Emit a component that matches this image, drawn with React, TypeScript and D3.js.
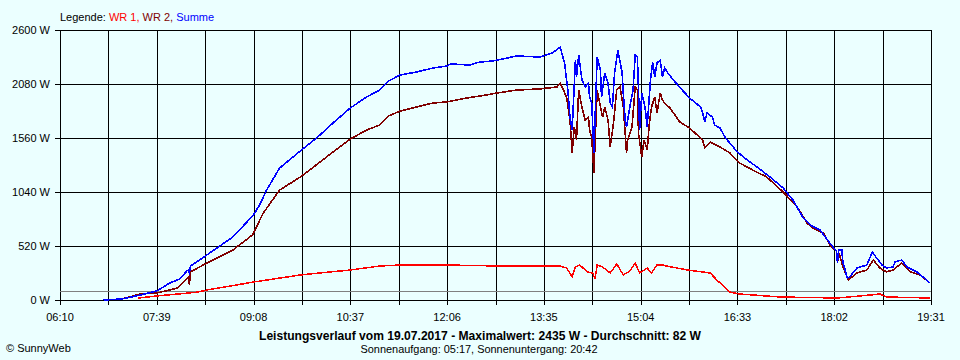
import React from "react";
import * as d3 from "d3";

const xTickLabels = ["06:10", "07:39", "09:08", "10:37", "12:06", "13:35", "15:04", "16:33", "18:02", "19:31"];
const yTicks = [0, 520, 1040, 1560, 2080, 2600];
const averageW = 82;

const summe: [string, number][] = [
  ["06:50", 0], ["07:07", 10], ["07:24", 48], ["07:39", 87], ["07:51", 164], ["08:00", 202], ["08:07", 283], ["08:08", 289], ["08:09", 262], ["08:10", 327],
  ["08:25", 433], ["08:49", 607], ["09:08", 819], ["09:14", 924], ["09:20", 1059], ["09:32", 1271], ["09:51", 1435],
  ["10:06", 1560], ["10:21", 1704], ["10:37", 1849], ["10:52", 1955], ["11:04", 2022], ["11:12", 2109], ["11:23", 2167],
  ["11:38", 2196], ["11:53", 2234], ["12:06", 2253], ["12:09", 2273], ["12:27", 2263], ["12:36", 2292], ["12:48", 2301],
  ["13:10", 2350], ["13:31", 2340], ["13:43", 2379], ["13:50", 2435], ["13:54", 2282], ["13:57", 2022], ["13:59", 1762],
  ["14:01", 1637], ["14:04", 2311], ["14:05", 2147], ["14:07", 2359], ["14:10", 2119], ["14:13", 2051], ["14:16", 2090],
  ["14:17", 1955], ["14:19", 1897], ["14:21", 1416], ["14:24", 2340], ["14:27", 2215], ["14:28", 1955], ["14:31", 2186],
  ["14:34", 2090], ["14:36", 1897], ["14:38", 1859], ["14:40", 2186], ["14:43", 2407], ["14:47", 2186], ["14:48", 1993],
  ["14:50", 1704], ["14:51", 1666], ["14:54", 1859], ["14:57", 2022], ["14:59", 2359], ["15:01", 2340], ["15:02", 2022],
  ["15:03", 1637], ["15:05", 1993], ["15:08", 1859], ["15:10", 1666], ["15:13", 2119], ["15:15", 2292], ["15:17", 2147],
  ["15:19", 2282], ["15:22", 2311], ["15:24", 2147], ["15:26", 2234], ["15:29", 2186], ["15:34", 2119], ["15:43", 2013],
  ["15:49", 1945], ["15:59", 1859], ["16:01", 1801], ["16:03", 1714], ["16:05", 1801], ["16:10", 1762], ["16:12", 1685],
  ["16:17", 1656], ["16:22", 1560], ["16:33", 1425], ["16:42", 1348], ["16:51", 1281], ["17:03", 1184], ["17:15", 1079],
  ["17:24", 963], ["17:33", 799], ["17:40", 722], ["17:49", 674], ["17:58", 549], ["18:04", 470], ["18:05", 356],
  ["18:06", 481], ["18:09", 481], ["18:10", 366], ["18:14", 212], ["18:16", 221], ["18:23", 308], ["18:32", 337],
  ["18:37", 462], ["18:41", 404], ["18:46", 337], ["18:50", 308], ["18:56", 318], ["18:58", 366], ["19:04", 385],
  ["19:09", 318], ["19:18", 270], ["19:27", 193], ["19:30", 164],
];

const wr2: [string, number][] = [
  ["06:50", 0], ["07:07", 10], ["07:24", 58], ["07:39", 67], ["07:47", 87], ["07:58", 116], ["08:08", 221], ["08:09", 150], ["08:10", 270],
  ["08:25", 356], ["08:49", 481], ["09:07", 626], ["09:17", 838], ["09:32", 1059], ["09:51", 1184], ["10:02", 1271],
  ["10:21", 1425], ["10:37", 1550], ["10:52", 1637], ["11:04", 1685], ["11:12", 1772], ["11:23", 1820], ["11:38", 1859],
  ["11:53", 1897], ["12:06", 1907], ["12:24", 1945], ["12:36", 1964], ["12:52", 1993], ["13:10", 2022], ["13:31", 2032],
  ["13:47", 2051], ["13:50", 2090], ["13:53", 2022], ["13:56", 1945], ["13:59", 1733], ["14:01", 1416], ["14:03", 1666],
  ["14:05", 1541], ["14:07", 2022], ["14:10", 1859], ["14:13", 1733], ["14:16", 1762], ["14:17", 1637], ["14:19", 1570],
  ["14:21", 1223], ["14:24", 2022], ["14:27", 1859], ["14:29", 1762], ["14:31", 1859], ["14:34", 1733], ["14:36", 1473],
  ["14:39", 1704], ["14:42", 2022], ["14:45", 2051], ["14:48", 1859], ["14:50", 1570], ["14:51", 1416], ["14:52", 1541],
  ["14:56", 1666], ["14:59", 2051], ["15:01", 2022], ["15:02", 1608], ["15:05", 1377], ["15:07", 1541], ["15:10", 1444],
  ["15:12", 1704], ["15:14", 1859], ["15:17", 1955], ["15:19", 1801], ["15:22", 1993], ["15:24", 1926], ["15:26", 1897],
  ["15:31", 1849], ["15:40", 1714], ["15:49", 1656], ["16:01", 1541], ["16:03", 1464], ["16:08", 1521], ["16:17", 1473],
  ["16:26", 1416], ["16:35", 1319], ["16:47", 1252], ["17:00", 1184], ["17:15", 1040], ["17:28", 896], ["17:37", 741],
  ["17:42", 693], ["17:52", 645], ["17:58", 530], ["18:04", 470], ["18:05", 366], ["18:07", 433], ["18:10", 318],
  ["18:15", 193], ["18:23", 260], ["18:32", 289], ["18:38", 385], ["18:44", 308], ["18:50", 270], ["18:56", 289],
  ["19:04", 356], ["19:12", 270], ["19:21", 241], ["19:30", 164],
];

const wr1: [string, number][] = [
  ["07:22", 19], ["07:39", 39], ["08:08", 67], ["08:17", 77], ["08:25", 96], ["09:08", 173], ["09:51", 241], ["10:09", 260],
  ["10:37", 289], ["11:04", 327], ["11:23", 337], ["12:06", 337], ["12:55", 327], ["13:50", 327], ["13:56", 308],
  ["14:01", 222], ["14:04", 318], ["14:08", 337], ["14:15", 270], ["14:20", 260], ["14:22", 202], ["14:24", 337],
  ["14:29", 318], ["14:36", 260], ["14:42", 347], ["14:48", 241], ["14:54", 279], ["14:59", 356], ["15:03", 260],
  ["15:10", 308], ["15:14", 260], ["15:19", 337], ["15:24", 337], ["15:28", 327], ["15:47", 289], ["16:08", 260],
  ["16:14", 193], ["16:26", 77], ["16:35", 58], ["17:12", 29], ["18:05", 19], ["18:35", 48], ["18:44", 58],
  ["18:50", 29], ["19:30", 19],
];

const toMin = (s: string) => {
  const [h, m] = s.split(":").map(Number);
  return h * 60 + m;
};

export default function App() {
  const W = 960, H = 360;
  const left = 60, right = 931, top = 30, bottom = 300;
  const t0 = toMin(xTickLabels[0]);
  const t1 = toMin(xTickLabels[xTickLabels.length - 1]);
  const x = d3.scaleLinear().domain([t0, t1]).range([left, right]);
  const y = d3.scaleLinear().domain([0, 2600]).range([bottom, top]);
  const step = (t1 - t0) / (xTickLabels.length - 1);
  const gridTimes = d3.range(0, 2 * (xTickLabels.length - 1) + 1).map((i) => t0 + (i * step) / 2);

  const line = d3
    .line<[string, number]>()
    .x((d) => x(toMin(d[0])))
    .y((d) => y(d[1]));

  const font = "'Liberation Sans', Arial, sans-serif";
  const px = (v: number) => Math.round(v) + 0.5;

  return (
    <svg width={W} height={H} style={{ position: "absolute", left: 0, top: 0, display: "block" }} fontFamily={font}>
      <rect x={0} y={0} width={W} height={H} fill="#EBFFFF" />
      <text x={60} y={20.5} fontSize={11}>
        <tspan fill="#000">Legende: </tspan>
        <tspan fill="#FF0000">WR 1, </tspan>
        <tspan fill="#800000">WR 2, </tspan>
        <tspan fill="#0000FF">Summe</tspan>
      </text>
      {gridTimes.map((t, i) => (
        <line key={"v" + i} x1={px(x(t))} x2={px(x(t))} y1={top} y2={bottom + 5} stroke="#000" strokeWidth={1} shapeRendering="crispEdges" />
      ))}
      {yTicks.map((v) => (
        <g key={"h" + v}>
          <line x1={left - 5} x2={right} y1={px(y(v))} y2={px(y(v))} stroke="#000" strokeWidth={1} shapeRendering="crispEdges" />
          <text x={50} y={y(v) + 4} fontSize={11} textAnchor="end" fill="#000">
            {v} W
          </text>
        </g>
      ))}
      {xTickLabels.map((l) => (
        <text key={l} x={x(toMin(l))} y={321} fontSize={11} textAnchor="middle" fill="#000">
          {l}
        </text>
      ))}
      <line x1={left} x2={right} y1={px(y(averageW))} y2={px(y(averageW))} stroke="#808080" strokeWidth={1} shapeRendering="crispEdges" />
      <path d={line(wr1) || ""} fill="none" stroke="#FF0000" strokeWidth={1.5} shapeRendering="crispEdges" />
      <path d={line(wr2) || ""} fill="none" stroke="#800000" strokeWidth={1.6} shapeRendering="crispEdges" />
      <path d={line(summe) || ""} fill="none" stroke="#0000FF" strokeWidth={1.6} shapeRendering="crispEdges" />
      <text x={480} y={340} fontSize={12} fontWeight="bold" textAnchor="middle" fill="#000" textLength={442} lengthAdjust="spacingAndGlyphs">
        Leistungsverlauf vom 19.07.2017 - Maximalwert: 2435 W - Durchschnitt: 82 W
      </text>
      <text x={479} y={353} fontSize={11} textAnchor="middle" fill="#000" textLength={237} lengthAdjust="spacingAndGlyphs">
        Sonnenaufgang: 05:17, Sonnenuntergang: 20:42
      </text>
      <text x={6} y={352} fontSize={11} fill="#000">
        © SunnyWeb
      </text>
    </svg>
  );
}
